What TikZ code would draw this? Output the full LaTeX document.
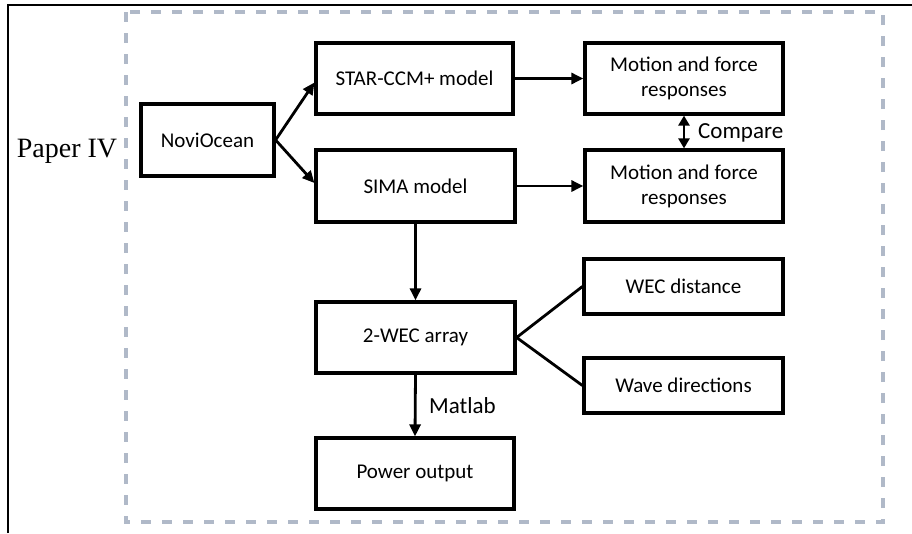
\documentclass[tikz,border=0pt]{standalone}
\usepackage{fontspec}
\setmainfont{Carlito}
\newfontfamily\serifpaper{Liberation Serif}
\usetikzlibrary{arrows.meta}
\definecolor{framegray}{RGB}{176,185,200}
\tikzset{
  stepbox/.style={draw,line width=3.2pt,minimum width=197pt,minimum height=71pt,align=center,inner sep=2pt,font=\fontsize{21}{25}\selectfont},
  flow/.style={line width=2.8pt,-{Triangle[length=12pt,width=11pt]}},
  tag/.style={font=\fontsize{23}{27}\selectfont,inner sep=0pt}
}
\begin{document}
\begin{tikzpicture}[x=1pt,y=-1pt]
\useasboundingbox (0,0) rectangle (912,533);
% outer frame, cut at the bottom
\draw[line width=2.6pt] (8,533) -- (8,5) -- (912,5);
% dashed group
\draw[framegray,line width=3.2pt,dash pattern=on 10pt off 11pt] (126,12) rectangle (883,522);
\node[font=\serifpaper\fontsize{28}{30}\selectfont,inner sep=0pt] (paper) at (67,151) {Paper IV};
% boxes
\node[stepbox,minimum width=133pt,minimum height=72pt] (novi) at (207.5,140) {NoviOcean};
\node[stepbox] (star) at (414.5,78.5) {STAR-CCM+ model};
\node[stepbox,minimum width=199pt,minimum height=72pt] (sima) at (415.5,186) {SIMA model};
\node[stepbox,minimum width=199pt] (wec) at (415.5,337.5) {2-WEC array};
\node[stepbox,minimum width=198pt] (power) at (415,473.5) {Power output};
\node[stepbox,minimum width=198pt] (mot1) at (684,78.5) {Motion and force\\responses};
\node[stepbox,minimum width=198pt,minimum height=72pt] (mot2) at (684,186) {Motion and force\\responses};
\node[stepbox,minimum width=199pt,minimum height=55pt] (dist) at (683.5,286.5) {WEC distance};
\node[stepbox,minimum width=199pt,minimum height=55pt] (wave) at (683.5,385.5) {Wave directions};
% connectors
\draw[flow] (novi.east) -- ([yshift=-4pt]star.west);
\draw[flow] (novi.east) -- ([yshift=3pt]sima.west);
\draw[flow] (star.east) -- (mot1.west);
\draw[flow] (sima.east) -- (mot2.west);
\draw[flow] (sima.south) -- (wec.north);
\draw[flow] (wec.south) -- (power.north);
\draw[line width=2.8pt,{Triangle[length=10pt,width=11pt]}-{Triangle[length=10pt,width=11pt]}] (mot1.south) -- (mot2.north);
\draw[line width=2.8pt] (dist.west) -- (wec.east) -- (wave.west);
\node[tag,anchor=west] (compare) at (698,133) {Compare};
\node[tag,anchor=west] (matlab) at (429,406) {Matlab};
\end{tikzpicture}
\end{document}
